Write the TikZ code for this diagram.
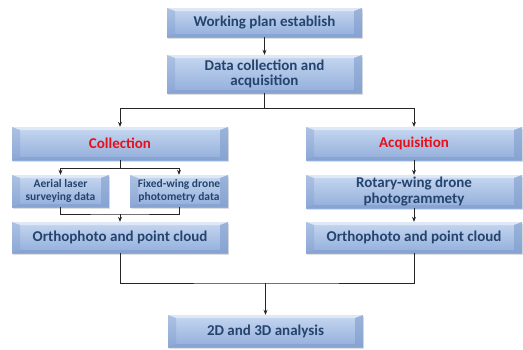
\documentclass[tikz,border=0pt]{standalone}
\usepackage{fontspec}
\setmainfont{Carlito}
\usetikzlibrary{arrows.meta,shadows}
\definecolor{boxtop}{HTML}{C6D7F0}
\definecolor{boxbot}{HTML}{92AEDB}
\definecolor{boxdark}{HTML}{7F9CCC}
\definecolor{txtblue}{HTML}{24446E}
\definecolor{txtred}{HTML}{E8101A}
\tikzset{
  bevbox/.style={draw=none, inner sep=1pt, align=center, text=txtblue,
    font=\bfseries\fontsize{15}{15.5}\selectfont,
    top color=boxtop, bottom color=boxbot,
    drop shadow={opacity=0.25, shadow xshift=1pt, shadow yshift=-2pt},
    path picture={
      \fill[white, opacity=0.45] (path picture bounding box.north west) -- (path picture bounding box.north east)
        -- ([xshift=-8pt,yshift=-3pt]path picture bounding box.north east) -- ([xshift=8pt,yshift=-3pt]path picture bounding box.north west) -- cycle;
      \fill[boxdark, opacity=0.35] (path picture bounding box.north west) -- ([xshift=8pt,yshift=-3pt]path picture bounding box.north west)
        -- ([xshift=8pt,yshift=3pt]path picture bounding box.south west) -- (path picture bounding box.south west) -- cycle;
      \fill[boxdark, opacity=0.6] (path picture bounding box.north east) -- ([xshift=-8pt,yshift=-3pt]path picture bounding box.north east)
        -- ([xshift=-8pt,yshift=3pt]path picture bounding box.south east) -- (path picture bounding box.south east) -- cycle;
      \fill[boxdark, opacity=0.6] (path picture bounding box.south west) -- ([xshift=8pt,yshift=3pt]path picture bounding box.south west)
        -- ([xshift=-8pt,yshift=3pt]path picture bounding box.south east) -- (path picture bounding box.south east) -- cycle;
    }},
  smallbox/.style={bevbox, font=\bfseries\fontsize{11.5}{12.5}\selectfont},
  bigbox/.style={bevbox, font=\bfseries\fontsize{15}{16}\selectfont},
  link/.style={draw=black!85, line width=0.7pt},
  arr/.style={link, -{Stealth[length=5pt,width=4pt]}}
}
\begin{document}
\begin{tikzpicture}[x=1pt,y=-1pt]
  \useasboundingbox (0,0) rectangle (523,349);
  %%%%% boxes %%%%%
  \node[bevbox, minimum width=195pt, minimum height=29pt] (work) at (264.5,22.5) {Working plan establish};
  \node[bevbox, minimum width=195pt, minimum height=38pt] (data) at (264.5,74) {Data collection and\\acquisition};

  \node[bevbox, minimum width=216pt, minimum height=33pt, text=txtred] (coll) at (120,143.5) {Collection};
  \node[bevbox, minimum width=216pt, minimum height=33pt, text=txtred] (acq) at (414,143.5) {Acquisition};

  \node[smallbox, minimum width=97pt, minimum height=32pt] (aerial) at (60.5,191) {Aerial laser\\surveying data};
  \node[smallbox, minimum width=98pt, minimum height=32pt] (fixed) at (179,191) {Fixed-wing drone\\photometry data};
  \node[bevbox, minimum width=216pt, minimum height=33pt] (rot) at (414,191.5) {Rotary-wing drone\\photogrammety};

  \node[bigbox, minimum width=216pt, minimum height=31pt] (orthoL) at (120,237.5) {Orthophoto and point cloud};
  \node[bigbox, minimum width=216pt, minimum height=31pt] (orthoR) at (414,237.5) {Orthophoto and point cloud};

  \node[bevbox, minimum width=195pt, minimum height=32pt] (ana) at (265.5,331) {2D and 3D analysis};

  %%%%% connectors %%%%%
  \coordinate (split) at (264.5,108);
  \coordinate (fork) at (120,168);
  \coordinate (join) at (120,214);
  \coordinate (merge) at (265.5,283);

  \draw[arr] (work) -- (data);
  \draw[link] (data.south) -- (split);
  \draw[arr] (split) -| (coll.north);
  \draw[arr] (split) -| (acq.north);

  \draw[link] (coll.south) -- (fork);
  \draw[arr] (fork) -| (aerial.north);
  \draw[arr] (fork) -| (fixed.north);
  \draw[link] (aerial.south) |- (join) -| (fixed.south);
  \draw[arr] (join) -- (orthoL.north);

  \draw[arr] (acq) -- (rot);
  \draw[arr] (rot) -- (orthoR);

  \draw[link] (orthoL.south) |- (merge) -| (orthoR.south);
  \draw[arr] (merge) -- (ana.north);
\end{tikzpicture}
\end{document}
